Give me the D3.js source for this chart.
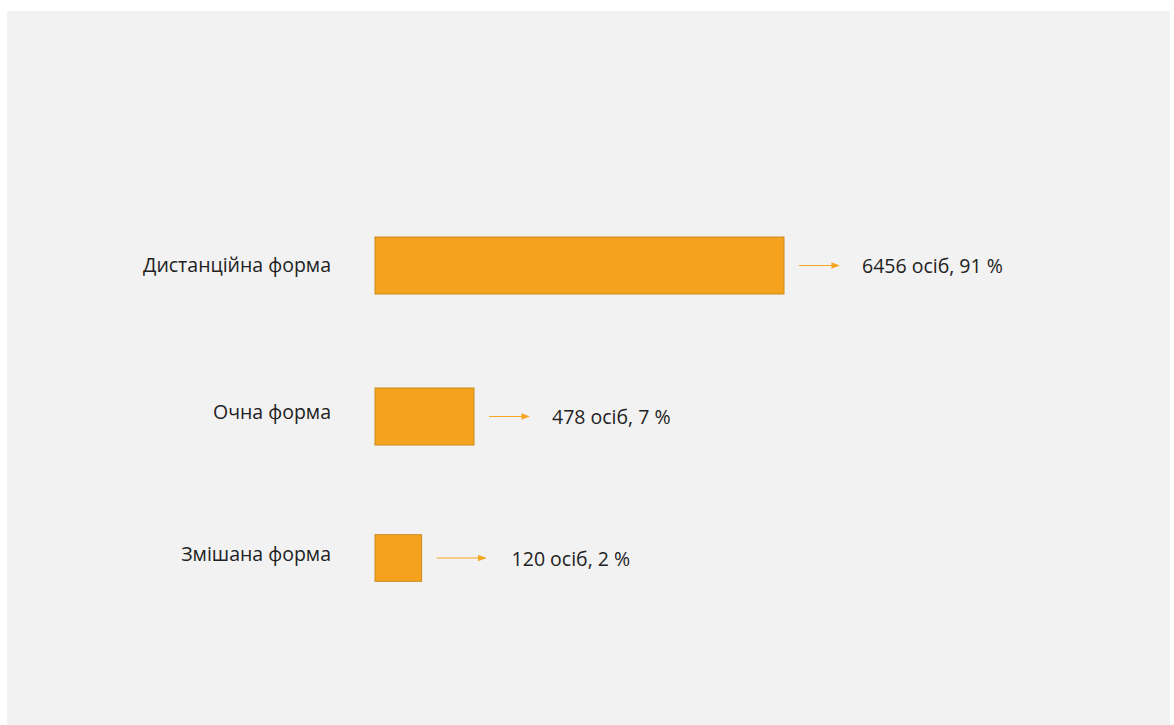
<!DOCTYPE html>
<html>
<head>
<meta charset="utf-8">
<script src="https://cdn.jsdelivr.net/npm/d3@7"></script>
<style>
  body { margin: 0; background: #fff; }
  text { font-family: "Open Sans", "Noto Sans", sans-serif; fill: #222; }
</style>
</head>
<body>
<div id="chart-area"></div>
<script>
// form of study, number of people, share
var categories = ["Дистанційна форма", "Очна форма", "Змішана форма"];
var persons = [6456, 478, 120];
var shares = [91, 7, 2];

var width = 1174, height = 725;

var svg = d3.select("#chart-area").append("svg")
	.attr("width", width)
	.attr("height", height);

// grey slide panel
svg.append("rect")
	.attr("x", 7).attr("y", 11)
	.attr("width", 1163).attr("height", height - 11)
	.attr("fill", "#f2f2f2");

// bars in the slide are not linear, closer to a root scale
var x = d3.scalePow().exponent(0.545)
	.domain([0, d3.max(persons)])
	.range([375, 784]);

var y = d3.scaleOrdinal()
	.domain(categories)
	.range([265.5, 416.5, 558]);

var barH = 57;

var g = svg.selectAll("g.row")
	.data(categories)
	.enter().append("g")
		.attr("class", "row");

g.append("rect")
	.attr("x", x(0))
	.attr("y", function(d, i){
		var w = x(persons[i]) - x(0);
		return y(d) - Math.min(barH, w) / 2;
	})
	.attr("width", function(d, i){ return x(persons[i]) - x(0); })
	.attr("height", function(d, i){
		return Math.min(barH, x(persons[i]) - x(0));
	})
	.attr("fill", "#f5a31e")
	.attr("stroke", "#c98a1c")
	.attr("stroke-width", 1);

g.append("text")
	.attr("x", 331)
	.attr("y", function(d, i){ return y(d) - (i == 0 ? 1 : 5); })
	.attr("text-anchor", "end")
	.attr("dominant-baseline", "central")
	.style("font-size", "19.5px")
	.text(function(d){ return d; });

svg.append("defs").append("marker")
	.attr("id", "head")
	.attr("viewBox", "0 0 10 10")
	.attr("refX", 9).attr("refY", 5)
	.attr("markerWidth", 7).attr("markerHeight", 7)
	.attr("orient", "auto")
	.append("path")
		.attr("d", "M0,1 L10,5 L0,9 Z")
		.attr("fill", "#f5a623");

g.append("line")
	.attr("x1", function(d, i){ return x(persons[i]) + 15; })
	.attr("x2", function(d, i){ return x(persons[i]) + (i == 2 ? 64 : 55); })
	.attr("y1", function(d){ return y(d); })
	.attr("y2", function(d){ return y(d); })
	.attr("stroke", "#f5a623")
	.attr("stroke-width", 1.2)
	.attr("marker-end", "url(#head)");

g.append("text")
	.attr("x", function(d, i){ return x(persons[i]) + (i == 2 ? 90 : 78); })
	.attr("y", function(d){ return y(d); })
	.attr("dominant-baseline", "central")
	.style("font-size", "19.5px")
	.text(function(d, i){ return persons[i] + " осіб, " + shares[i] + " %"; });
</script>
</body>
</html>
